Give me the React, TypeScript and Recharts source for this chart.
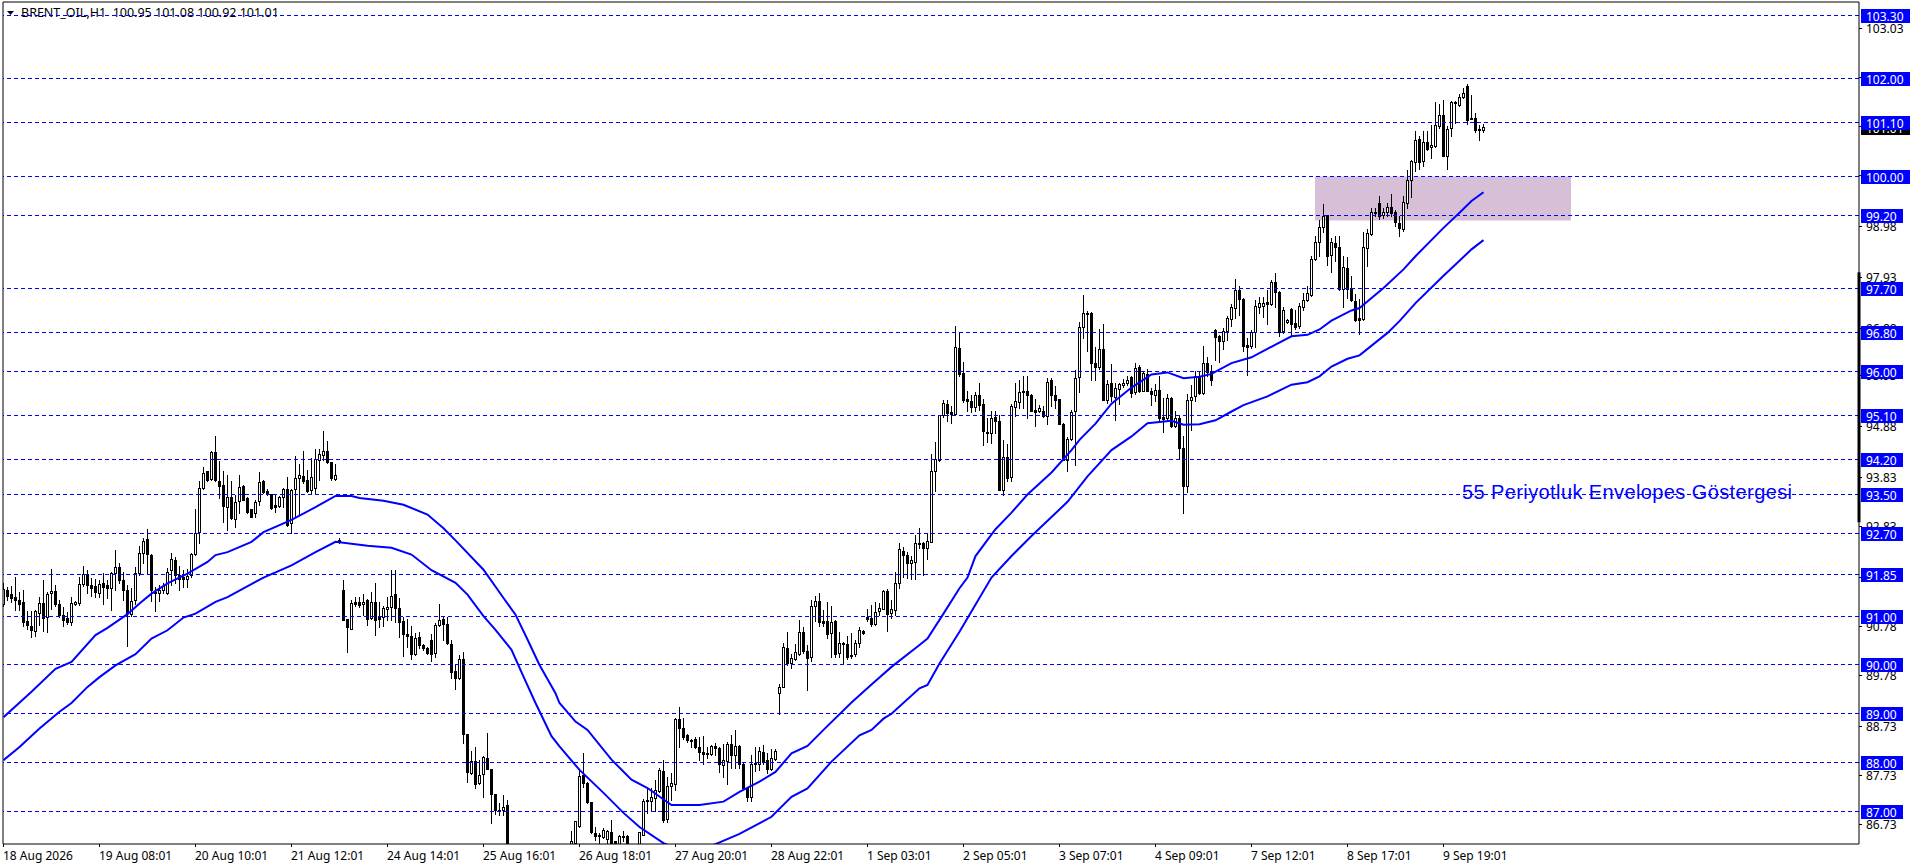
import React from "react";
import { ComposedChart, Bar, Line, XAxis, YAxis, ReferenceLine, ReferenceArea } from "recharts";

// Candles as [open, high, low, close], one small array per stretch of the chart.
const candlesA = [
[91.25,91.68,91.2,91.55],[91.53,91.6,91.32,91.42],[91.46,91.62,91.29,91.38],[91.39,91.81,91.13,91.33],[91.32,91.5,91.13,91.25],[91.29,91.54,90.8,90.87],[90.9,91.11,90.73,90.81],[90.8,91.11,90.58,90.72],[90.69,91.13,90.6,91.11],[91.07,91.4,90.82,91.27],
[91.27,91.74,90.7,90.96],[90.98,91.5,90.67,91.46],[91.47,91.96,91.14,91.51],[91.51,91.64,91.2,91.25],[91.25,91.33,90.99,91.03],[91.03,91.18,90.8,90.92],[90.96,91.08,90.84,90.87],[90.88,91.4,90.82,91.27],[91.25,91.31,91.22,91.29],[91.27,91.81,91.23,91.66],
[91.66,92.03,91.61,91.87],[91.87,91.95,91.48,91.63],[91.64,91.78,91.42,91.57],[91.62,91.76,91.4,91.5],[91.48,91.74,91.4,91.66],[91.68,91.89,91.25,91.59],[91.63,91.74,91.37,91.57],[91.57,91.91,91.13,91.88],[91.89,92.36,91.54,92.0],[92.0,92.09,91.68,91.73],
[91.74,91.91,91.33,91.54],[91.54,91.64,90.38,91.06],[91.04,91.57,91.0,91.3],[91.32,92.0,91.25,91.89],[91.89,92.44,91.85,92.3],[92.29,92.6,92.09,92.54],[92.58,92.78,91.88,92.27],[92.26,92.28,91.3,91.53],[91.49,91.6,91.1,91.47],[91.47,91.64,91.3,91.54],
[91.54,91.68,91.47,91.62],[91.48,91.98,91.46,91.91],[91.94,92.29,91.64,92.17],[92.15,92.22,91.68,91.85],[91.85,92.02,91.54,91.76],[91.8,91.95,91.6,91.76],[91.77,91.96,91.6,91.83],[91.85,92.3,91.81,92.28],[92.27,93.19,92.26,92.71],[92.73,93.76,92.49,93.63],
[93.62,94.06,93.6,93.93],[93.97,93.98,93.77,93.79],[93.81,94.39,93.78,94.36],[94.36,94.69,93.76,93.78],[93.77,94.17,93.42,93.66],[93.69,93.98,92.93,93.25],[93.23,93.89,92.77,93.44],[93.44,93.76,92.99,93.01],[92.99,93.48,92.82,93.33],[93.35,93.88,93.11,93.64],
[93.67,93.69,93.37,93.38],[93.42,93.44,93.11,93.14],[93.19,93.19,93.02,93.02],[93.11,93.38,93.03,93.33],[93.35,93.96,93.28,93.74],[93.77,93.79,93.52,93.55],[93.56,93.6,93.48,93.51],[93.5,93.51,93.19,93.21],[93.27,93.48,93.14,93.23],[93.25,93.46,93.23,93.44],
[93.44,93.62,93.23,93.6],[93.6,93.85,92.85,92.87],[92.9,93.6,92.7,93.59],[93.6,94.28,93.04,93.83],[93.83,94.12,93.08,93.89],[93.87,94.39,93.72,93.76],[93.78,94.0,93.55,93.57],[93.59,94.24,93.5,93.85],[93.62,94.42,93.5,94.21],[94.2,94.42,93.78,94.32],
[94.29,94.8,94.2,94.38],[94.38,94.59,94.13,94.15],[94.15,94.15,93.79,93.83],[93.81,94.12,93.79,93.89],[92.55,92.6,92.5,92.55],
];
const candlesB = [
[91.54,91.74,90.91,90.91],[90.94,90.94,90.26,90.77],[90.74,91.33,90.73,91.27],[91.29,91.4,91.2,91.25],[91.29,91.4,91.18,91.22],[91.25,91.46,91.03,91.29],[91.32,91.35,90.82,90.95],[90.96,91.49,90.94,91.28],[91.29,91.68,90.62,90.92],[90.99,91.29,90.77,90.95],
[90.99,91.21,90.79,91.16],[91.14,91.4,90.92,91.18],[91.18,91.95,90.92,91.42],[91.46,91.95,90.87,91.16],[91.16,91.38,90.58,90.87],[90.89,90.99,90.19,90.63],[90.64,90.94,90.37,90.6],[90.6,90.79,90.13,90.23],[90.22,90.65,90.21,90.55],[90.57,90.67,90.34,90.41],
[90.41,90.43,90.31,90.34],[90.34,90.37,90.23,90.24],[90.52,90.64,90.09,90.23],[90.24,90.86,90.17,90.82],[90.82,91.25,90.8,90.92],[90.94,90.99,90.52,90.84],[90.84,90.99,90.43,90.45],[90.43,90.52,89.73,89.85],[89.88,90.0,89.51,89.73],[89.73,90.21,89.71,90.12],
[90.12,90.26,88.41,88.58],[88.58,88.58,87.61,87.81],[87.78,88.23,87.77,88.04],[88.04,88.31,87.48,87.56],[87.58,88.06,87.57,87.75],[87.76,88.14,87.29,88.11],[88.09,88.6,87.87,87.87],[87.87,87.87,86.76,87.35],[87.35,87.35,86.95,87.02],[87.03,87.17,86.93,87.02],
[87.02,87.34,86.93,87.1],[87.13,87.24,85.9,86.2],
];
// Below the visible range in the reference: rough estimates only.
const candlesHidden = [
[86.2,86.25,85.85,85.95],[85.95,86.1,85.7,85.8],[85.8,85.95,85.6,85.7],[85.7,85.9,85.55,85.85],[85.85,86.0,85.7,85.75],[85.75,85.9,85.55,85.6],[85.6,85.8,85.5,85.7],[85.7,85.95,85.6,85.9],[85.9,86.05,85.75,85.8],[85.8,86.0,85.7,85.95],
[85.95,86.1,85.8,85.85],[85.85,86.0,85.7,85.9],[85.9,86.1,85.8,86.05],[86.05,86.2,85.9,86.0],[86.0,86.25,85.95,86.2],
];
const candlesC = [
[86.25,86.59,86.2,86.39],[86.35,86.8,86.3,86.8],[86.71,87.85,86.69,87.73],[87.75,88.19,87.5,87.58],[87.58,87.6,87.17,87.19],[87.19,87.2,86.56,86.57],[86.56,86.68,86.42,86.5],[86.52,86.56,86.36,86.49],[86.47,86.66,86.45,86.62],[86.43,86.62,86.35,86.6],
[86.58,86.83,86.34,86.35],[86.39,86.4,86.28,86.3],[86.32,86.52,86.3,86.5],[86.5,86.59,86.39,86.47],[86.5,86.52,86.25,86.3],[86.3,86.31,86.1,86.15],[86.15,86.3,86.05,86.25],[86.3,86.58,86.2,86.57],[86.52,87.25,86.51,87.22],[87.23,87.48,86.97,87.24],
[87.22,87.48,87.03,87.29],[87.27,87.65,87.0,87.43],[87.41,87.89,87.39,87.85],[87.83,88.06,86.78,86.82],[86.84,87.71,86.79,87.52],[87.53,87.78,87.23,87.59],[87.57,88.92,87.44,88.9],[88.9,89.13,88.32,88.7],[88.7,88.92,88.49,88.52],[88.56,88.58,88.43,88.46],
[88.46,88.49,88.32,88.44],[88.49,88.53,88.29,88.32],[88.31,88.53,88.05,88.21],[88.21,88.54,87.98,88.17],[88.2,88.32,88.09,88.17],[88.17,88.36,88.15,88.34],[88.35,88.41,88.15,88.29],[88.29,88.31,87.81,87.98],[87.96,88.38,87.7,88.06],[88.04,88.43,87.57,88.39],
[88.39,88.56,87.88,88.15],[88.15,88.67,87.88,88.35],[88.34,88.36,87.88,87.97],[87.98,87.99,87.44,87.47],[87.47,87.51,87.22,87.3],[87.3,88.15,87.22,87.98],[87.99,88.32,87.83,87.97],[87.98,88.31,87.85,88.24],[88.22,88.36,87.98,88.02],[88.05,88.19,87.79,87.86],
[87.86,88.27,87.85,88.09],[88.08,88.27,88.06,88.24],
];
const candlesD = [
[89.42,89.61,88.99,89.54],[89.55,90.45,89.55,90.36],[90.34,90.67,90.0,90.04],[90.04,90.22,89.94,90.15],[90.13,90.43,90.11,90.26],[90.22,90.93,90.2,90.67],[90.67,90.77,90.25,90.29],[90.28,90.41,89.48,90.15],[90.17,91.34,90.09,91.2],[91.21,91.41,90.9,91.3],
[91.3,91.48,90.8,90.88],[90.9,91.12,90.8,90.86],[90.9,91.28,90.56,90.63],[90.66,91.21,90.17,90.87],[90.9,90.93,90.17,90.23],[90.25,90.67,90.17,90.44],[90.44,90.47,90.02,90.42],[90.43,90.59,90.12,90.17],[90.21,90.65,90.15,90.19],[90.22,90.52,90.19,90.44],
[90.45,90.77,90.36,90.71],[90.69,90.71,90.63,90.65],[90.99,91.14,90.9,90.95],[90.97,91.23,90.8,90.84],[90.83,91.29,90.82,91.09],[91.11,91.26,91.02,91.16],[91.15,91.53,91.14,91.51],[91.51,91.55,90.7,91.05],[91.07,91.34,90.97,91.14],[91.12,91.91,91.02,91.67],
];
const candlesE = [
[91.68,92.5,91.58,92.37],[92.33,92.42,91.8,92.26],[92.26,92.31,91.79,92.08],[92.09,92.23,91.75,92.14],[92.1,92.67,91.75,92.5],[92.48,92.81,92.4,92.5],[92.5,92.52,91.85,92.4],[92.39,92.71,92.16,92.54],[92.52,94.31,92.52,93.97],[93.98,94.57,93.56,94.21],
[94.19,95.11,94.17,95.11],[95.11,95.42,95.08,95.37],[95.35,95.42,95.0,95.15],[95.18,95.3,94.95,95.14],[95.14,96.95,95.14,96.52],[96.5,96.79,95.92,95.95],[95.97,96.21,95.38,95.42],[95.44,95.62,95.2,95.4],[95.4,95.52,95.18,95.29],[95.29,95.59,95.21,95.53],
[95.53,95.78,95.22,95.33],[95.35,95.44,94.5,94.79],[94.78,95.06,94.56,94.74],[94.74,95.2,94.54,95.06],[95.08,95.21,94.74,95.0],[95.0,95.11,93.58,93.59],[93.59,94.6,93.48,94.26],[94.26,94.52,93.76,93.83],[93.85,95.35,93.76,95.31],[95.29,95.78,95.1,95.4],
[95.38,95.83,95.27,95.58],[95.62,95.91,95.27,95.59],[95.62,95.92,95.05,95.52],[95.52,95.54,95.2,95.21],[95.23,95.44,94.9,95.19],[95.2,95.33,95.18,95.26],[95.21,95.3,95.08,95.1],[95.1,95.87,94.93,95.8],[95.83,95.87,95.3,95.52],[95.52,95.72,95.27,95.42],
[95.44,95.45,94.93,94.94],[94.94,94.96,94.19,94.19],[94.19,94.66,93.98,94.63],[94.62,95.23,94.6,95.19],[95.2,96.03,94.09,95.88],
];
const candlesF = [
[95.9,97.02,95.58,96.92],[96.92,97.58,96.69,97.21],[97.21,97.24,96.42,97.19],[97.21,97.22,95.84,96.18],[96.18,96.52,95.84,96.11],[96.1,96.88,96.06,96.46],[96.46,96.98,95.42,95.43],[95.42,95.84,95.36,95.75],[95.77,96.17,95.4,95.5],[95.48,95.77,95.02,95.67],
[95.65,95.77,95.35,95.75],[95.73,95.85,95.7,95.77],[95.77,95.91,95.74,95.84],[95.9,95.92,95.49,95.57],[95.58,96.18,95.55,96.08],[96.1,96.14,95.58,95.6],[95.62,96.0,95.6,95.98],[95.96,96.06,95.6,95.62],[95.62,95.67,95.33,95.55],[95.52,95.76,95.4,95.64],
[95.64,95.92,95.02,95.06],[95.08,95.47,94.78,95.04],[95.06,95.55,95.02,95.47],[95.47,95.49,94.87,94.89],[94.89,95.21,94.87,95.06],[95.06,95.09,94.24,94.44],[94.44,94.68,93.12,93.66],[93.67,95.55,93.55,95.43],[95.42,95.74,94.82,95.49],[95.5,96.01,95.4,95.91],
[95.92,96.01,95.55,95.57],[95.57,96.54,95.55,96.18],[96.18,96.3,95.91,95.99],[96.01,96.15,95.74,95.83],[96.85,96.87,96.25,96.71],[96.74,96.76,96.2,96.64],[96.64,96.9,96.46,96.83],[96.84,97.14,96.66,97.1],[97.09,97.39,96.95,97.34],[97.31,97.9,97.1,97.68],
[97.68,97.77,97.17,97.49],[97.5,97.51,96.43,96.54],[96.56,96.69,95.93,96.52],[96.54,96.85,96.49,96.82],[96.81,97.48,96.51,97.36],[97.34,97.53,97.21,97.41],[97.36,97.53,97.12,97.41],[97.43,97.68,96.98,97.39],[97.39,97.89,97.38,97.85],[97.84,98.03,97.34,97.63],
[97.63,97.65,96.74,96.81],[96.83,97.33,96.8,97.27],[97.02,97.08,97.0,97.07],[97.29,97.31,96.73,96.98],[97.0,97.26,96.87,96.93],[96.95,97.41,96.9,97.36],[97.33,97.62,97.26,97.48],[97.47,97.77,97.45,97.61],
];
const candlesG = [
[97.58,98.37,97.55,98.32],[98.32,98.78,98.3,98.66],[98.66,99.12,98.37,98.97],[98.97,99.43,98.86,99.2],[99.22,99.22,98.18,98.37],[98.39,98.75,98.04,98.66],[98.64,98.79,98.28,98.55],[98.56,98.79,97.67,97.69],[97.69,98.37,97.33,98.15],[98.13,98.36,97.52,97.7],
[97.72,97.96,97.45,97.47],[97.45,97.6,97.04,97.06],[97.11,97.5,96.78,97.07],[97.09,98.87,97.07,98.56],[98.54,98.93,98.17,98.85],[98.83,99.35,98.81,99.27],[99.27,99.36,99.19,99.25],[99.47,99.61,99.14,99.19],[99.22,99.36,99.15,99.27],[99.27,99.46,99.19,99.38],
[99.38,99.65,99.19,99.26],[99.27,99.31,98.98,99.07],[99.05,99.19,98.78,98.94],[98.92,99.61,98.88,99.48],[99.46,100.14,99.35,99.94],[99.94,100.35,99.58,100.32],[100.3,100.93,100.12,100.76],[100.77,100.84,100.16,100.3],[100.32,100.93,100.21,100.71],[100.71,100.93,100.55,100.57],
[100.61,101.05,100.38,100.65],[100.62,101.52,100.6,101.05],[101.03,101.48,101.0,101.26],[101.27,101.56,100.43,100.43],[100.43,101.03,100.16,100.98],[101.0,101.54,100.84,101.53],[101.51,101.54,101.1,101.52],[101.47,101.7,101.45,101.63],[101.63,101.82,101.61,101.71],[101.86,101.9,101.07,101.15],
[101.2,101.68,101.17,101.18],[101.2,101.3,100.91,100.95],[100.98,101.05,100.76,100.95],[100.95,101.08,100.92,101.01],
];

const upperIdx = [0,7,13,17,23,26,31,34,37,41,46,51,53,56,62,65,72,78,83,87,89,95,100,106,110,113,120,125,128,131,134,138,139,143,146,152,157,161,167,174,180,184,189,193,197,201,205,212,217,222,229,231,235,239,241,243,248,252,256,262,267,269,273,277,282,287,291,295,299,302,307,312,318,322,326,329,332,337,339,345,350,353,360,364,367,370];
const upperVal = [88.93,89.45,89.92,90.06,90.61,90.76,91.04,91.26,91.46,91.67,91.87,92.11,92.25,92.31,92.52,92.72,92.97,93.23,93.46,93.46,93.42,93.36,93.28,93.08,92.8,92.55,91.95,91.37,91.03,90.52,90.0,89.42,89.22,88.84,88.67,88.06,87.65,87.48,87.13,87.13,87.2,87.4,87.61,87.81,88.19,88.34,88.67,89.23,89.6,89.96,90.41,90.54,91.05,91.57,91.79,92.23,92.78,93.12,93.49,93.94,94.4,94.61,94.94,95.35,95.68,95.95,95.99,95.87,95.9,95.96,96.18,96.3,96.56,96.73,96.76,96.87,97.05,97.26,97.31,97.72,98.1,98.37,98.95,99.26,99.5,99.68];
const lowerIdx = [0,4,9,14,17,21,24,28,33,37,41,45,48,53,56,65,72,78,83,91,97,102,107,113,116,120,123,127,130,133,137,139,144,150,155,159,165,168,172,176,178,184,192,197,201,207,214,217,220,222,229,231,234,239,247,252,257,266,271,277,282,286,292,295,299,303,307,310,316,322,326,329,332,336,339,346,349,353,360,363,367,370];
const lowerVal = [88.05,88.32,88.7,89.04,89.22,89.55,89.75,89.99,90.22,90.54,90.71,90.97,91.05,91.29,91.39,91.79,92.04,92.31,92.52,92.44,92.4,92.26,91.94,91.68,91.44,91.0,90.72,90.31,89.76,89.22,88.54,88.33,87.85,87.38,86.97,86.68,86.35,86.25,86.2,86.25,86.33,86.54,86.89,87.3,87.47,88.02,88.56,88.67,88.9,89.0,89.52,89.59,90.03,90.68,91.79,92.23,92.64,93.34,93.86,94.4,94.68,94.95,95.0,94.92,94.93,95.01,95.19,95.32,95.5,95.74,95.79,95.91,96.11,96.27,96.34,96.8,97.04,97.41,97.97,98.2,98.51,98.7];

const dateLabels = ["18 Aug 2026","19 Aug 08:01","20 Aug 10:01","21 Aug 12:01","24 Aug 14:01","25 Aug 16:01","26 Aug 18:01","27 Aug 20:01","28 Aug 22:01","1 Sep 03:01","2 Sep 05:01","3 Sep 07:01","4 Sep 09:01","7 Sep 12:01","8 Sep 17:01","9 Sep 19:01"];
const dateTickIdx = [0,24,48,72,96,120,144,168,192,216,240,264,288,312,336,360];
const priceTicks = [103.03,102.03,101.03,100.03,98.98,97.93,96.88,95.93,94.88,93.83,92.83,91.8,90.78,89.78,88.73,87.73,86.73];
const levels = [103.3,102,101.1,100,99.2,97.7,96.8,96,95.1,94.2,93.5,92.7,91.85,91,90,89,88,87];
const titleText = "BRENT_OIL,H1  100.95 101.08 100.92 101.01";
const noteText = "55 Periyotluk Envelopes Göstergesi";
const bidPrice = 101.01;

const candles = [...candlesA, ...candlesB, ...candlesHidden, ...candlesC, ...candlesD, ...candlesE, ...candlesF, ...candlesG];
const rows = candles.map((c, i) => {
  const u = upperIdx.indexOf(i);
  const l = lowerIdx.indexOf(i);
  return { idx: i, open: c[0], high: c[1], low: c[2], close: c[3], range: [c[2], c[1]], upper: u >= 0 ? upperVal[u] : null, lower: l >= 0 ? lowerVal[l] : null };
});

const FONT = "'Noto Sans', sans-serif";
const BLUE = "#0000ff";
const Y_DOMAIN = [86.333, 103.576];
const X_DOMAIN = [-0.125, 463.875];

const Candle = (props: any) => {
  const { x, y, width, height, payload } = props;
  if (!payload) return null;
  const { open, high, low, close } = payload;
  const c = Math.floor(x + width / 2) + 0.5;
  const k = Math.abs(height) / (high - low);
  const top = Math.min(y, y + height);
  const py = (p: number) => top + (high - p) * k;
  const bt = Math.round(py(Math.max(open, close)));
  const bb = Math.round(py(Math.min(open, close)));
  const up = close >= open;
  return (
    <g shapeRendering="crispEdges">
      <line x1={c} x2={c} y1={Math.round(py(high))} y2={Math.round(py(low)) + 1} stroke="#000" strokeWidth={1} />
      <rect x={c - 1} y={bt + 0.5} width={2} height={Math.max(bb - bt, 1)} fill={up ? "#fff" : "#000"} stroke="#000" strokeWidth={1} />
    </g>
  );
};

// One axis carries both the plain grid labels (first) and the price tags (later, so they paint on top).
const PriceTick = ({ x, y, payload }: any) => {
  const v = payload.value;
  const text = v.toFixed(2);
  const yy = Math.floor(y);
  if (priceTicks.includes(v)) {
    return (
      <g>
        <line x1={1859} x2={1862} y1={yy + 0.5} y2={yy + 0.5} stroke="#000" />
        <text x={1866} y={yy + 5} fill="#000" fontSize={12} fontFamily={FONT}>{text}</text>
      </g>
    );
  }
  const w = text.length > 5 ? 49 : 42;
  return (
    <g>
      <rect x={1861} y={yy - 6} width={w} height={14} fill={v === bidPrice ? "#000" : BLUE} />
      <text x={1866} y={yy + 6} fill="#fff" fontSize={12} fontFamily={FONT}>{text}</text>
    </g>
  );
};
const DateTick = ({ x, y, payload }: any) => {
  const i = dateTickIdx.indexOf(payload.value);
  return <text x={x - 0.5} y={y + 11} fill="#000" fontSize={12} fontFamily={FONT}>{dateLabels[i]}</text>;
};

export default function App() {
  return (
    <div style={{ position: "absolute", left: 0, top: 0, width: 1916, height: 868, background: "#fff" }}>
      <ComposedChart width={1916} height={868} data={rows} margin={{ top: 2, right: 0, bottom: 0, left: 3 }}>
        <XAxis dataKey="idx" type="number" domain={X_DOMAIN} allowDataOverflow ticks={dateTickIdx} interval={0} height={24} tickSize={3} stroke="#000" tick={<DateTick />} />
        <YAxis orientation="right" type="number" domain={Y_DOMAIN} allowDataOverflow ticks={[...priceTicks, bidPrice, ...levels]} interval={0} width={57} tickLine={false} stroke="#000" tick={<PriceTick />} />
        <ReferenceLine x={X_DOMAIN[0]} stroke="#000" />
        <ReferenceLine y={Y_DOMAIN[1]} stroke="#000" />
        <ReferenceArea x1={327.875} x2={391.875} y1={99.1} y2={100} fill="#d8bfd8" fillOpacity={1} stroke="none" />
        {levels.map((v) => (
          <ReferenceLine key={v} y={v} stroke={BLUE} strokeWidth={1} strokeDasharray="4 3" shapeRendering="crispEdges" />
        ))}
        <ReferenceLine segment={[{ x: X_DOMAIN[1], y: 98.04 }, { x: X_DOMAIN[1], y: 92.92 }]} stroke="#000" strokeWidth={3} ifOverflow="visible" />
        <Bar dataKey="range" barSize={3} shape={<Candle />} isAnimationActive={false} />
        <Line dataKey="upper" stroke={BLUE} strokeWidth={2} dot={false} connectNulls isAnimationActive={false} />
        <Line dataKey="lower" stroke={BLUE} strokeWidth={2} dot={false} connectNulls isAnimationActive={false} />
        <text x={1462} y={499} fill={BLUE} fontSize={20} letterSpacing={0.4} fontFamily="'Liberation Sans', sans-serif">{noteText}</text>
        <path d="M7 11 L14 11 L10.5 15 Z" fill="#000" />
        <text x={21} y={17} fill="#000" fontSize={12.5} fontFamily={FONT} style={{ whiteSpace: "pre" }}>{titleText}</text>
      </ComposedChart>
    </div>
  );
}
